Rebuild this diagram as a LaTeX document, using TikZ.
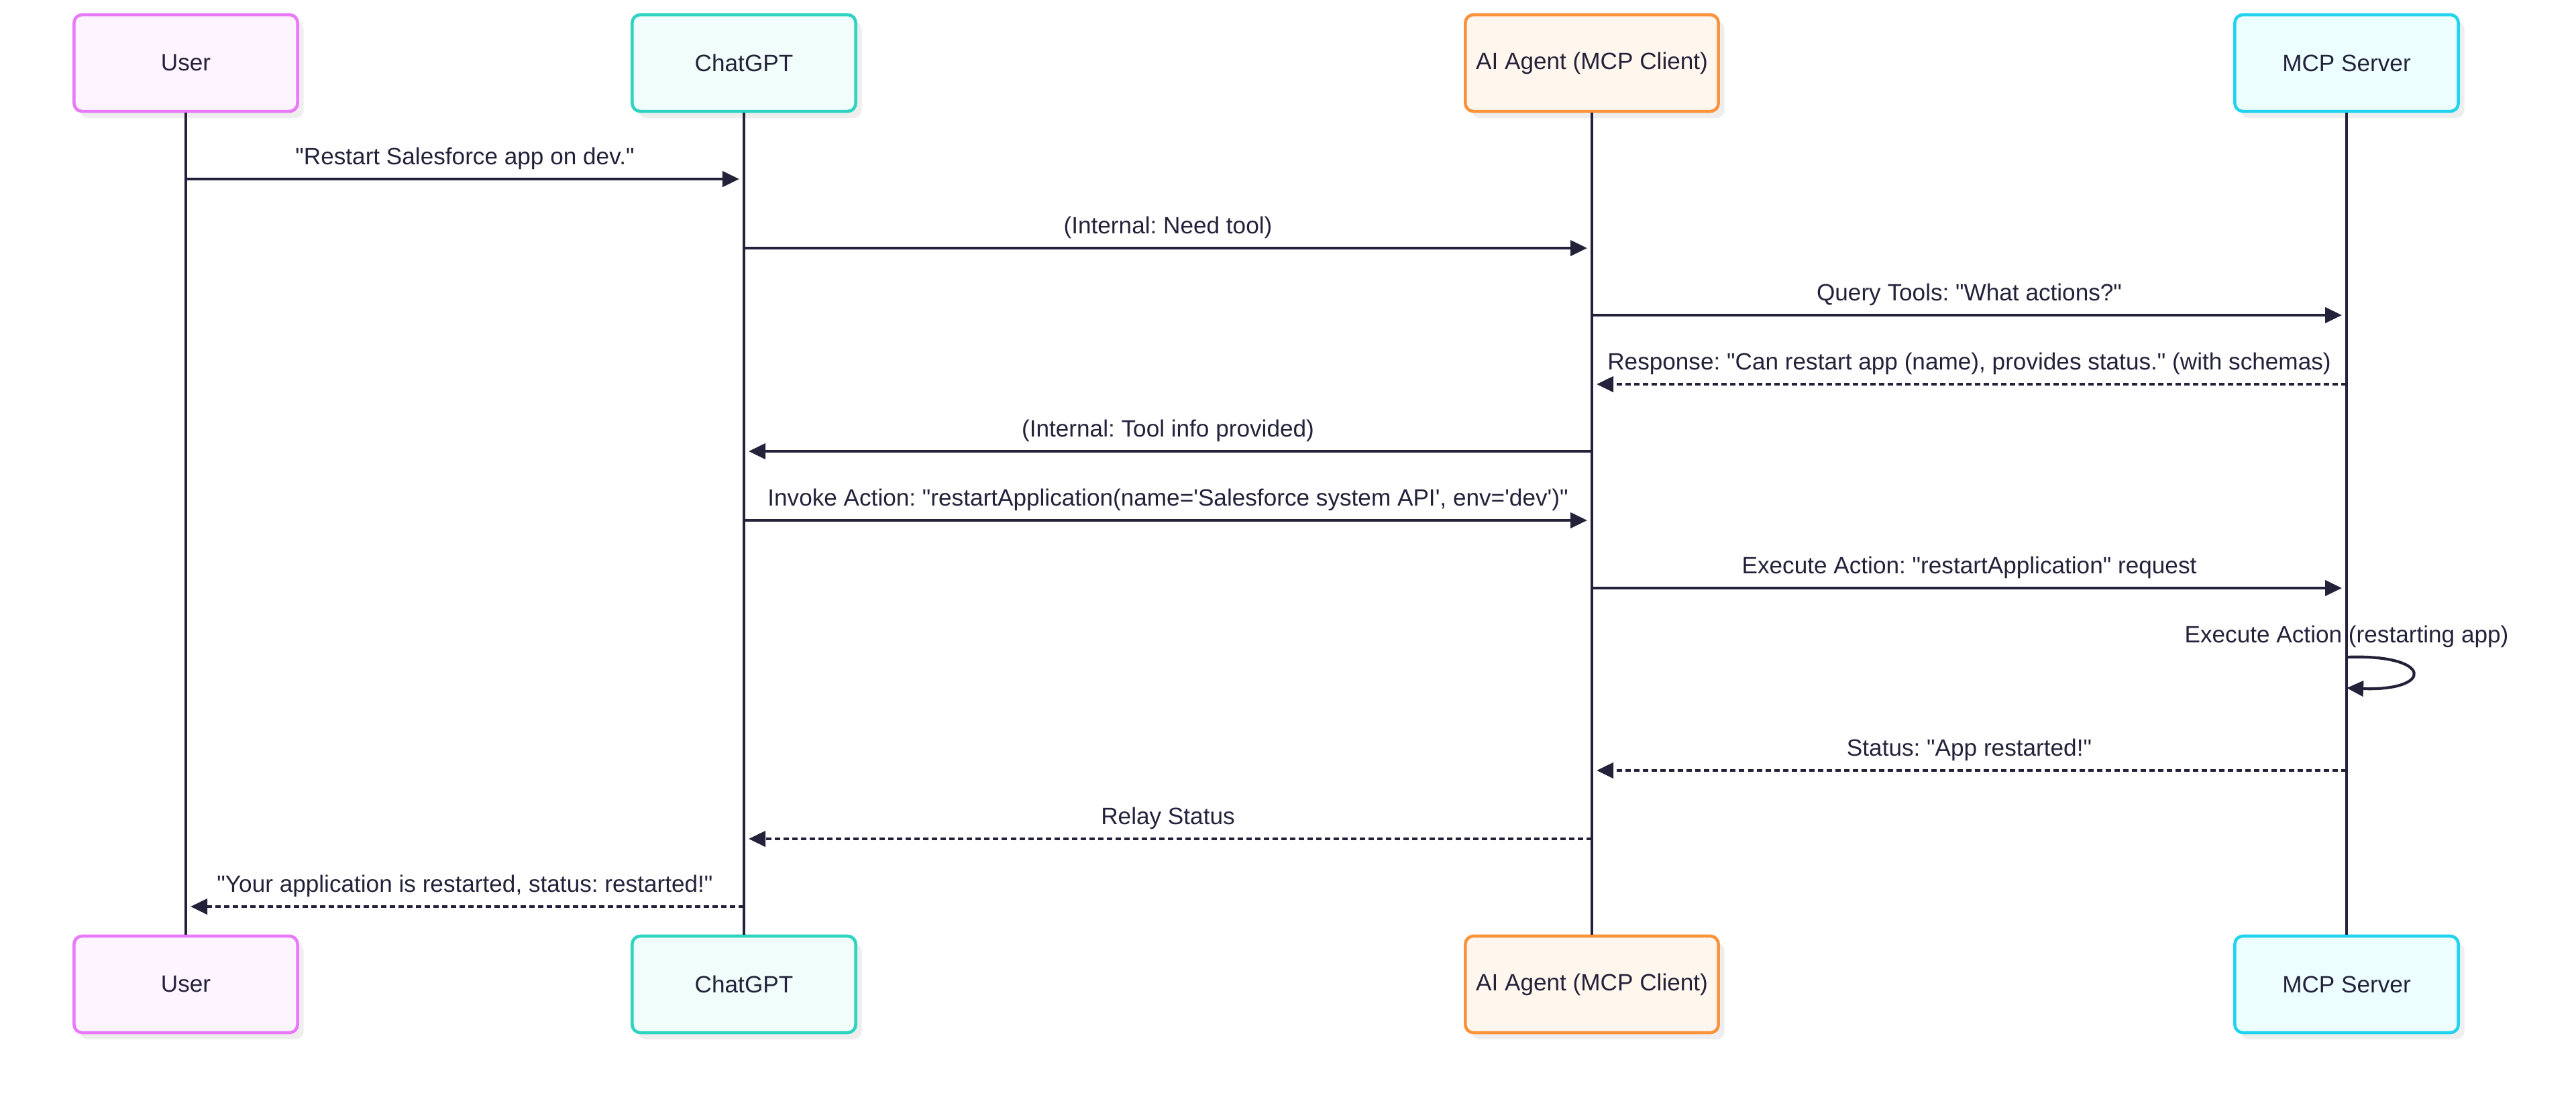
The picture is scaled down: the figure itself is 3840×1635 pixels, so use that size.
\documentclass[tikz,border=0pt]{standalone}
\usepackage{fontspec}
\setmainfont{Liberation Sans}[Ligatures=TeXOff]
\frenchspacing
\definecolor{inkDark}{HTML}{24223A}
\definecolor{shadowGray}{HTML}{EEEEEE}
\definecolor{userLine}{HTML}{E879F9}
\definecolor{userFill}{HTML}{FDF4FF}
\definecolor{chatLine}{HTML}{2DD4BF}
\definecolor{chatFill}{HTML}{F0FDFA}
\definecolor{agentLine}{HTML}{FB923C}
\definecolor{agentFill}{HTML}{FFF7ED}
\definecolor{serverLine}{HTML}{22D3EE}
\definecolor{serverFill}{HTML}{ECFEFF}
\usetikzlibrary{calc, positioning, arrows.meta, shadows}

\begin{document}
\begin{tikzpicture}[x=0.01cm, y=-0.01cm,
    font=\fontsize{10}{12}\selectfont, text=inkDark,
    actor/.style={rounded corners=0.12cm, line width=1.3pt, inner sep=0pt,
      minimum width=3.33cm, minimum height=1.44cm,
      drop shadow={shadow xshift=0.09cm, shadow yshift=-0.1cm, fill=shadowGray, opacity=1}},
    lifeline/.style={draw=inkDark, line width=1.2pt},
    msg/.style={draw=inkDark, line width=1.2pt, shorten >=0.07cm,
      -{Triangle[length=0.25cm, width=0.23cm]}},
    reply/.style={msg, dash pattern=on 0.08cm off 0.05cm},
    lbl/.style={anchor=base, yshift=0.22cm, inner sep=0pt}]
  \useasboundingbox (0,0) rectangle (3840,1635);

  % participants, top and bottom
  \node[actor, draw=userLine, fill=userFill] (userTop) at (277,94) {User};
  \node[actor, draw=chatLine, fill=chatFill] (chatTop) at (1109,94) {ChatGPT};
  \node[actor, draw=agentLine, fill=agentFill, minimum width=3.77cm] (agentTop) at (2373,94) {AI Agent (MCP Client)};
  \node[actor, draw=serverLine, fill=serverFill] (serverTop) at (3498,94) {MCP Server};
  \node[actor, draw=userLine, fill=userFill] (userBot) at (277,1468) {User};
  \node[actor, draw=chatLine, fill=chatFill] (chatBot) at (1109,1468) {ChatGPT};
  \node[actor, draw=agentLine, fill=agentFill, minimum width=3.77cm] (agentBot) at (2373,1468) {AI Agent (MCP Client)};
  \node[actor, draw=serverLine, fill=serverFill] (serverBot) at (3498,1468) {MCP Server};

  \foreach \who in {user, chat, agent, server}
    \draw[lifeline] (\who Top) -- (\who Bot);

  % message rows
  \foreach \n/\y in {r1/267, r2/370, r3/470, r4/573, r5/673, r6/776, r7/877,
                     loopA/980, loopB/1026, r9/1149, r10/1251, r11/1352}
    \coordinate (\n) at (0,\y);

  \draw[msg] (userTop |- r1) -- node[lbl] {"Restart Salesforce app on dev."} (chatTop |- r1);
  \draw[msg] (chatTop |- r2) -- node[lbl] {(Internal: Need tool)} (agentTop |- r2);
  \draw[msg] (agentTop |- r3) -- node[lbl] {Query Tools: "What actions?"} (serverTop |- r3);
  \draw[reply] (serverTop |- r4) -- node[lbl] {Response: "Can restart app (name), provides status." (with schemas)} (agentTop |- r4);
  \draw[msg] (agentTop |- r5) -- node[lbl] {(Internal: Tool info provided)} (chatTop |- r5);
  \draw[msg] (chatTop |- r6) -- node[lbl] {Invoke Action: "restartApplication(name='Salesforce system API', env='dev')"} (agentTop |- r6);
  \draw[msg] (agentTop |- r7) -- node[lbl] {Execute Action: "restartApplication" request} (serverTop |- r7);

  \node[lbl] (loopText) at (serverTop |- loopA) {Execute Action (restarting app)};
  \draw[msg, shorten >=0pt] (serverTop |- loopA) .. controls +(130,-5) and +(130,5) .. (serverTop |- loopB);

  \draw[reply] (serverTop |- r9) -- node[lbl] {Status: "App restarted!"} (agentTop |- r9);
  \draw[reply] (agentTop |- r10) -- node[lbl] {Relay Status} (chatTop |- r10);
  \draw[reply] (chatTop |- r11) -- node[lbl] {"Your application is restarted, status: restarted!"} (userTop |- r11);
\end{tikzpicture}
\end{document}
